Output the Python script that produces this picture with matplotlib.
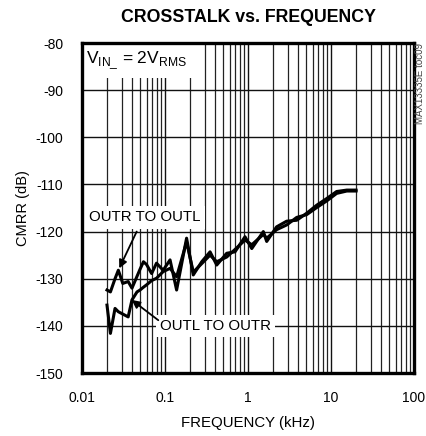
import matplotlib
matplotlib.use("Agg")
import matplotlib.pyplot as plt
from matplotlib.ticker import LogLocator, FixedLocator, NullFormatter
from matplotlib import font_manager as fm

# ---- data ----
freq_khz = [0.020, 0.022, 0.025, 0.0274, 0.031, 0.036, 0.040, 0.046, 0.050, 0.055,
            0.060, 0.069, 0.079, 0.095, 0.115, 0.138, 0.182, 0.219, 0.277, 0.349,
            0.42, 0.554, 0.697, 0.92, 1.11, 1.53, 1.68, 2.21, 2.92, 3.86,
            5.1, 6.73, 8.87, 11.7, 15.5, 20.0]
outr_to_outl = [-132.4, -132.8, -130.0, -128.2, -131.0, -130.6, -132.0, -129.5, -128.0, -126.4,
                -127.0, -128.9, -126.7, -128.2, -126.0, -132.4, -121.4, -129.2, -126.4, -124.3,
                -127.1, -124.6, -124.3, -121.1, -123.6, -120.0, -122.1, -119.0, -117.8, -117.6,
                -116.1, -114.4, -113.0, -111.5, -111.2, -111.2]
outl_to_outr = [-135.6, -141.6, -136.3, -137.0, -137.5, -138.1, -134.5, -132.8, -132.4, -131.8,
                -131.3, -130.4, -129.9, -128.5, -127.8, -129.6, -122.2, -128.6, -126.8, -125.0,
                -126.4, -125.4, -123.8, -121.8, -122.8, -120.6, -121.4, -119.6, -118.6, -117.0,
                -116.4, -114.9, -113.5, -111.9, -111.4, -111.4]
xticks = [0.01, 0.1, 1, 10, 100]
xticklabels = ["0.01", "0.1", "1", "10", "100"]
yticks = [-150, -140, -130, -120, -110, -100, -90, -80]

names = {f.name for f in fm.fontManager.ttflist}
base = "Liberation Sans" if "Liberation Sans" in names else "DejaVu Sans"
title_font = "Liberation Sans Narrow" if "Liberation Sans Narrow" in names else base
plt.rcParams['font.family'] = [base, 'DejaVu Sans']
plt.rcParams['axes.unicode_minus'] = False
plt.rcParams['mathtext.fontset'] = 'custom'
plt.rcParams['mathtext.rm'] = base

fig = plt.figure(figsize=(4.26, 4.36), dpi=100)
ax = fig.add_axes([82/426, 1-373/436, 332/426, 330/436])

ax.set_xscale('log')
ax.set_xlim(0.01, 100)
ax.set_ylim(-150, -80)

ax.plot(freq_khz, outr_to_outl, color='black', lw=2.2, solid_joinstyle='round', zorder=4)
ax.plot(freq_khz, outl_to_outr, color='black', lw=2.2, solid_joinstyle='round', zorder=4)

ax.xaxis.set_major_locator(FixedLocator(xticks))
ax.set_xticklabels(xticklabels)
ax.xaxis.set_minor_locator(LogLocator(base=10, subs=range(2, 10), numticks=20))
ax.xaxis.set_minor_formatter(NullFormatter())
ax.set_yticks(yticks)
ax.grid(which='major', color='#111111', lw=1.0)
ax.grid(which='minor', axis='x', color='#222222', lw=0.9)
ax.tick_params(which='both', length=0)
ax.tick_params(axis='y', pad=13.5, labelsize=10)
ax.tick_params(axis='x', pad=13, labelsize=10)
for s in ax.spines.values():
    s.set_linewidth(2.4)
    s.set_zorder(6)

ax.set_xlabel("FREQUENCY (kHz)", fontsize=10.8, labelpad=8)
ax.set_ylabel("CMRR (dB)", fontsize=10.5, labelpad=4)
fig.text(248/426, 1-17/436, "CROSSTALK vs. FREQUENCY", ha='center', va='center',
         fontsize=12.8, fontweight='bold', family=[title_font, base])

fig.text(420/426, 1-43/436, "MAX13335E toc09", rotation=90, ha='center', va='top',
         fontsize=7, color='#444444')

box = dict(facecolor='white', edgecolor='none', pad=4)
ax.text(0.012, 0.945, r"V$_{\mathregular{IN\_}}$ = 2V$_{\mathregular{RMS}}$",
        transform=ax.transAxes, ha='left', va='center', fontsize=12.5, bbox=box, zorder=5)

lbl_box = dict(facecolor='white', edgecolor='none', pad=3)
ax.text(0.0122, -117.0, "OUTR TO OUTL", fontsize=10.8, ha='left', va='center',
        bbox=lbl_box, zorder=5)
ax.text(0.0871, -140.0, "OUTL TO OUTR", fontsize=10.8, ha='left', va='center',
        bbox=lbl_box, zorder=5)
arrow = dict(arrowstyle='-|>', color='black', lw=1.3, mutation_scale=12, shrinkA=0, shrinkB=0)
ax.annotate("", xy=(0.0281, -127.8), xytext=(0.0456, -120.0), arrowprops=arrow, zorder=5)
ax.annotate("", xy=(0.0397, -134.5), xytext=(0.0830, -138.8), arrowprops=arrow, zorder=5)

fig.savefig("out.png", dpi=100)
